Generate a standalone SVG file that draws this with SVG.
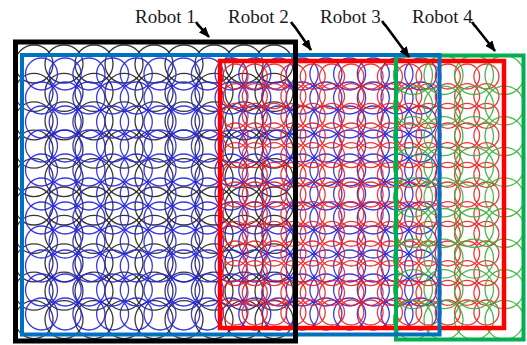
<svg xmlns="http://www.w3.org/2000/svg" width="527" height="345" viewBox="0 0 527 345">
  <style>
    .cov { fill: none; stroke-width: 1.3; }
    .cov-k { stroke: #222; stroke-opacity: 0.9; }
    .cov-b { stroke: #2626e0; stroke-opacity: 0.9; }
    .cov-r { stroke: #f02020; stroke-opacity: 0.9; }
    .cov-g { stroke: #38b038; stroke-opacity: 0.9; }
    .area { fill: none; }
    .label { font-family: "Liberation Serif", "Times New Roman", serif; font-size: 19px; fill: #1a1a1a; }
    .arrow { stroke: #000; stroke-width: 2.6; fill: none; }
  </style>
  <defs>
    <marker id="head" markerUnits="userSpaceOnUse" markerWidth="11" markerHeight="9" refX="10" refY="4.5" orient="auto">
      <path d="M0,0 L11,4.5 L0,9 Z" fill="#000"/>
    </marker>
    <!-- one row of sensing circles per robot, repeated down the area -->
    <g id="row-k" class="cov cov-k">
      <circle cx="34" cy="0" r="19"/><circle cx="64" cy="0" r="19"/><circle cx="94" cy="0" r="19"/>
      <circle cx="124" cy="0" r="19"/><circle cx="154" cy="0" r="19"/><circle cx="184" cy="0" r="19"/>
      <circle cx="214" cy="0" r="19"/><circle cx="244" cy="0" r="19"/><circle cx="274" cy="0" r="19"/>
    </g>
    <g id="row-b" class="cov cov-b">
      <circle cx="41.5" cy="0" r="16"/><circle cx="65.2" cy="0" r="16"/><circle cx="88.9" cy="0" r="16"/>
      <circle cx="112.6" cy="0" r="16"/><circle cx="136.3" cy="0" r="16"/><circle cx="160" cy="0" r="16"/>
      <circle cx="183.7" cy="0" r="16"/><circle cx="207.4" cy="0" r="16"/><circle cx="231.1" cy="0" r="16"/>
      <circle cx="254.8" cy="0" r="16"/><circle cx="278.5" cy="0" r="16"/><circle cx="302.2" cy="0" r="16"/>
      <circle cx="325.9" cy="0" r="16"/><circle cx="349.6" cy="0" r="16"/><circle cx="373.3" cy="0" r="16"/>
      <circle cx="397" cy="0" r="16"/><circle cx="420.7" cy="0" r="16"/>
    </g>
    <g id="row-r" class="cov cov-r">
      <circle cx="235.5" cy="0" r="12.5"/><circle cx="254.8" cy="0" r="12.5"/><circle cx="274.1" cy="0" r="12.5"/>
      <circle cx="293.4" cy="0" r="12.5"/><circle cx="312.7" cy="0" r="12.5"/><circle cx="332" cy="0" r="12.5"/>
      <circle cx="351.3" cy="0" r="12.5"/><circle cx="370.6" cy="0" r="12.5"/><circle cx="389.9" cy="0" r="12.5"/>
      <circle cx="409.2" cy="0" r="12.5"/><circle cx="428.5" cy="0" r="12.5"/><circle cx="447.8" cy="0" r="12.5"/>
      <circle cx="467.1" cy="0" r="12.5"/><circle cx="486.4" cy="0" r="12.5"/>
    </g>
    <g id="row-g" class="cov cov-g">
      <circle cx="413" cy="0" r="19.5"/><circle cx="443.5" cy="0" r="19.5"/>
      <circle cx="474" cy="0" r="19.5"/><circle cx="504.5" cy="0" r="19.5"/>
    </g>
  </defs>

  <rect width="527" height="345" fill="#fff"/>

  <!-- coverage circles -->
  <g id="coverage1">
    <use href="#row-k" y="64"/><use href="#row-k" y="92.4"/><use href="#row-k" y="120.8"/>
    <use href="#row-k" y="149.2"/><use href="#row-k" y="177.6"/><use href="#row-k" y="206"/>
    <use href="#row-k" y="234.4"/><use href="#row-k" y="262.8"/><use href="#row-k" y="291.2"/>
    <use href="#row-k" y="319.6"/>
  </g>
  <g id="coverage2">
    <use href="#row-b" y="74"/><use href="#row-b" y="98"/><use href="#row-b" y="122"/>
    <use href="#row-b" y="146"/><use href="#row-b" y="170"/><use href="#row-b" y="194"/>
    <use href="#row-b" y="218"/><use href="#row-b" y="242"/><use href="#row-b" y="266"/>
    <use href="#row-b" y="290"/><use href="#row-b" y="314"/>
  </g>
  <g id="coverage3">
    <use href="#row-r" y="76.5"/><use href="#row-r" y="96.2"/><use href="#row-r" y="115.8"/>
    <use href="#row-r" y="135.5"/><use href="#row-r" y="155.2"/><use href="#row-r" y="174.8"/>
    <use href="#row-r" y="194.5"/><use href="#row-r" y="214.2"/><use href="#row-r" y="233.8"/>
    <use href="#row-r" y="253.5"/><use href="#row-r" y="273.2"/><use href="#row-r" y="292.8"/>
    <use href="#row-r" y="312.5"/>
  </g>
  <g id="coverage4">
    <use href="#row-g" y="75"/><use href="#row-g" y="105.6"/><use href="#row-g" y="136.2"/>
    <use href="#row-g" y="166.8"/><use href="#row-g" y="197.4"/><use href="#row-g" y="228"/>
    <use href="#row-g" y="258.6"/><use href="#row-g" y="289.2"/><use href="#row-g" y="319.8"/>
  </g>

  <!-- robot working areas -->
  <g id="robot3"><rect class="area" x="220" y="61" width="284" height="267" stroke="#ff0000" stroke-width="4.5"/></g>
  <g id="robot4"><rect class="area" x="396" y="55.5" width="127.5" height="284" stroke="#00b050" stroke-width="4"/></g>
  <g id="robot2"><rect class="area" x="22" y="55" width="417.5" height="279.5" stroke="#0070c0" stroke-width="4"/></g>
  <g id="robot1"><rect class="area" x="15.5" y="42" width="280" height="299" stroke="#000" stroke-width="5"/></g>

  <!-- labels -->
  <g id="labels">
    <text class="label" x="135" y="23">Robot 1</text>
    <text class="label" x="228" y="23">Robot 2</text>
    <text class="label" x="320" y="23">Robot 3</text>
    <text class="label" x="412" y="23">Robot 4</text>
  </g>

  <!-- pointers from labels to areas -->
  <g id="connectors">
    <path class="arrow" d="M196,22 Q198,25 200,27 L209,37" marker-end="url(#head)"/>
    <path class="arrow" d="M291,22 Q293,25 295,27 L311,50" marker-end="url(#head)"/>
    <path class="arrow" d="M382,21 Q384,24 386,26 L409,57" marker-end="url(#head)"/>
    <path class="arrow" d="M472,22 Q474,25 476,27 L495,51" marker-end="url(#head)"/>
  </g>
</svg>
